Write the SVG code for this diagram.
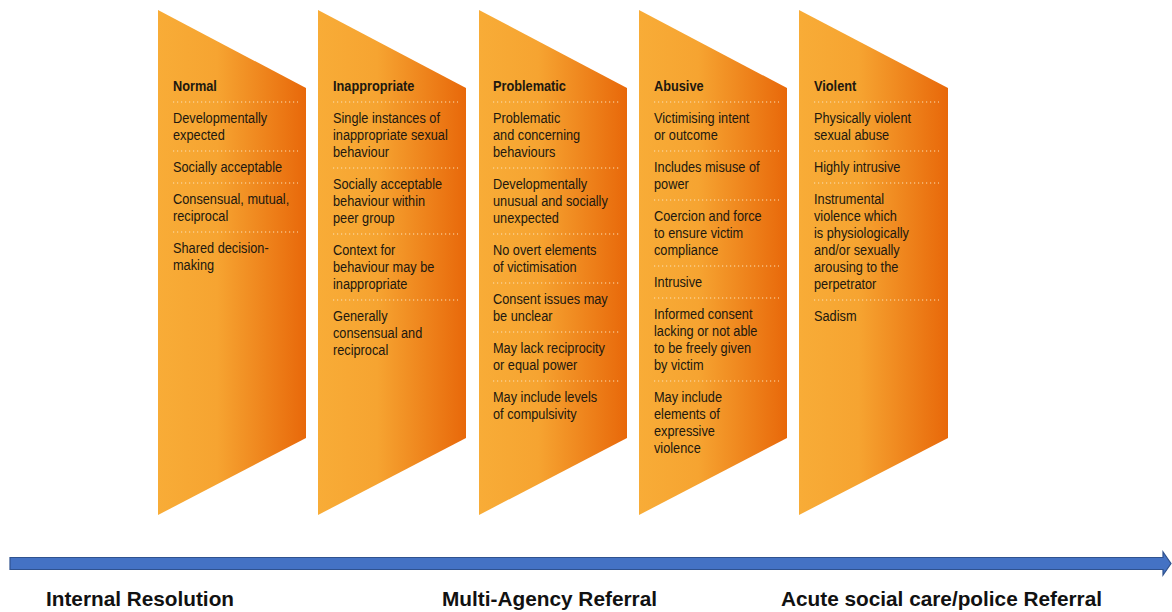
<svg xmlns="http://www.w3.org/2000/svg" width="1172" height="612" viewBox="0 0 1172 612">
<defs>
<linearGradient id="og" x1="0" y1="0" x2="1" y2="0">
<stop offset="0" stop-color="#F8AC37"/>
<stop offset="0.4" stop-color="#F6A431"/>
<stop offset="1" stop-color="#E8680A"/>
</linearGradient>
<style>
.panel{fill:url(#og)}
.t{font-family:"Liberation Sans",Arial,sans-serif;font-size:14.5px;fill:#21180f}
.h{font-weight:bold}
.dot{stroke:#FCE2B8;stroke-width:1.2;stroke-dasharray:1.2 2.8;fill:none}
.lbl{font-family:"Liberation Sans",Arial,sans-serif;font-size:20.5px;font-weight:bold;fill:#111}
</style>
</defs>
<rect width="1172" height="612" fill="#fff"/>

<g id="panel-normal" transform="translate(158,0)">
<polygon class="panel" points="0,10 148,88 148,438 0,515"/>
<line class="dot" x1="15" y1="102" x2="140" y2="102"/>
<line class="dot" x1="15" y1="151" x2="140" y2="151"/>
<line class="dot" x1="15" y1="183" x2="140" y2="183"/>
<line class="dot" x1="15" y1="232" x2="140" y2="232"/>
<g transform="translate(15,0) scale(0.88,1)">
<text class="t h" x="0" y="91">Normal</text>
<text class="t" x="0" y="123">Developmentally</text>
<text class="t" x="0" y="140">expected</text>
<text class="t" x="0" y="172">Socially acceptable</text>
<text class="t" x="0" y="204">Consensual, mutual,</text>
<text class="t" x="0" y="221">reciprocal</text>
<text class="t" x="0" y="253">Shared decision-</text>
<text class="t" x="0" y="270">making</text>
</g>
</g>

<g id="panel-inappropriate" transform="translate(318,0)">
<polygon class="panel" points="0,10 148,88 148,438 0,515"/>
<line class="dot" x1="15" y1="102" x2="140" y2="102"/>
<line class="dot" x1="15" y1="168" x2="140" y2="168"/>
<line class="dot" x1="15" y1="234" x2="140" y2="234"/>
<line class="dot" x1="15" y1="300" x2="140" y2="300"/>
<g transform="translate(15,0) scale(0.88,1)">
<text class="t h" x="0" y="91">Inappropriate</text>
<text class="t" x="0" y="123">Single instances of</text>
<text class="t" x="0" y="140">inappropriate sexual</text>
<text class="t" x="0" y="157">behaviour</text>
<text class="t" x="0" y="189">Socially acceptable</text>
<text class="t" x="0" y="206">behaviour within</text>
<text class="t" x="0" y="223">peer group</text>
<text class="t" x="0" y="255">Context for</text>
<text class="t" x="0" y="272">behaviour may be</text>
<text class="t" x="0" y="289">inappropriate</text>
<text class="t" x="0" y="321">Generally</text>
<text class="t" x="0" y="338">consensual and</text>
<text class="t" x="0" y="355">reciprocal</text>
</g>
</g>

<g id="panel-problematic" transform="translate(479,0)">
<polygon class="panel" points="0,10 148,88 148,438 0,515"/>
<line class="dot" x1="14" y1="102" x2="140" y2="102"/>
<line class="dot" x1="14" y1="168" x2="140" y2="168"/>
<line class="dot" x1="14" y1="234" x2="140" y2="234"/>
<line class="dot" x1="14" y1="283" x2="140" y2="283"/>
<line class="dot" x1="14" y1="332" x2="140" y2="332"/>
<line class="dot" x1="14" y1="381" x2="140" y2="381"/>
<g transform="translate(14,0) scale(0.88,1)">
<text class="t h" x="0" y="91">Problematic</text>
<text class="t" x="0" y="123">Problematic</text>
<text class="t" x="0" y="140">and concerning</text>
<text class="t" x="0" y="157">behaviours</text>
<text class="t" x="0" y="189">Developmentally</text>
<text class="t" x="0" y="206">unusual and socially</text>
<text class="t" x="0" y="223">unexpected</text>
<text class="t" x="0" y="255">No overt elements</text>
<text class="t" x="0" y="272">of victimisation</text>
<text class="t" x="0" y="304">Consent issues may</text>
<text class="t" x="0" y="321">be unclear</text>
<text class="t" x="0" y="353">May lack reciprocity</text>
<text class="t" x="0" y="370">or equal power</text>
<text class="t" x="0" y="402">May include levels</text>
<text class="t" x="0" y="419">of compulsivity</text>
</g>
</g>

<g id="panel-abusive" transform="translate(639,0)">
<polygon class="panel" points="0,10 148,88 148,438 0,515"/>
<line class="dot" x1="15" y1="102" x2="140" y2="102"/>
<line class="dot" x1="15" y1="151" x2="140" y2="151"/>
<line class="dot" x1="15" y1="200" x2="140" y2="200"/>
<line class="dot" x1="15" y1="266" x2="140" y2="266"/>
<line class="dot" x1="15" y1="298" x2="140" y2="298"/>
<line class="dot" x1="15" y1="381" x2="140" y2="381"/>
<g transform="translate(15,0) scale(0.88,1)">
<text class="t h" x="0" y="91">Abusive</text>
<text class="t" x="0" y="123">Victimising intent</text>
<text class="t" x="0" y="140">or outcome</text>
<text class="t" x="0" y="172">Includes misuse of</text>
<text class="t" x="0" y="189">power</text>
<text class="t" x="0" y="221">Coercion and force</text>
<text class="t" x="0" y="238">to ensure victim</text>
<text class="t" x="0" y="255">compliance</text>
<text class="t" x="0" y="287">Intrusive</text>
<text class="t" x="0" y="319">Informed consent</text>
<text class="t" x="0" y="336">lacking or not able</text>
<text class="t" x="0" y="353">to be freely given</text>
<text class="t" x="0" y="370">by victim</text>
<text class="t" x="0" y="402">May include</text>
<text class="t" x="0" y="419">elements of</text>
<text class="t" x="0" y="436">expressive</text>
<text class="t" x="0" y="453">violence</text>
</g>
</g>

<g id="panel-violent" transform="translate(799,0)">
<polygon class="panel" points="0,10 149,88 149,438 0,515"/>
<line class="dot" x1="15" y1="102" x2="140" y2="102"/>
<line class="dot" x1="15" y1="151" x2="140" y2="151"/>
<line class="dot" x1="15" y1="183" x2="140" y2="183"/>
<line class="dot" x1="15" y1="300" x2="140" y2="300"/>
<g transform="translate(15,0) scale(0.88,1)">
<text class="t h" x="0" y="91">Violent</text>
<text class="t" x="0" y="123">Physically violent</text>
<text class="t" x="0" y="140">sexual abuse</text>
<text class="t" x="0" y="172">Highly intrusive</text>
<text class="t" x="0" y="204">Instrumental</text>
<text class="t" x="0" y="221">violence which</text>
<text class="t" x="0" y="238">is physiologically</text>
<text class="t" x="0" y="255">and/or sexually</text>
<text class="t" x="0" y="272">arousing to the</text>
<text class="t" x="0" y="289">perpetrator</text>
<text class="t" x="0" y="321">Sadism</text>
</g>
</g>

<g id="connectors">
<path id="scale-arrow" d="M10,557.5 L1163,557.5 L1163,552 L1171,563.5 L1163,575 L1163,569.5 L10,569.5 Z" fill="#4472C4" stroke="#2F528F" stroke-width="1.2"/>
</g>

<g id="label-internal"><text class="lbl" x="46" y="606" textLength="188" lengthAdjust="spacingAndGlyphs">Internal Resolution</text></g>
<g id="label-multi"><text class="lbl" x="442" y="606" textLength="215" lengthAdjust="spacingAndGlyphs">Multi-Agency Referral</text></g>
<g id="label-acute"><text class="lbl" x="781" y="606" textLength="321" lengthAdjust="spacingAndGlyphs">Acute social care/police Referral</text></g>
</svg>
